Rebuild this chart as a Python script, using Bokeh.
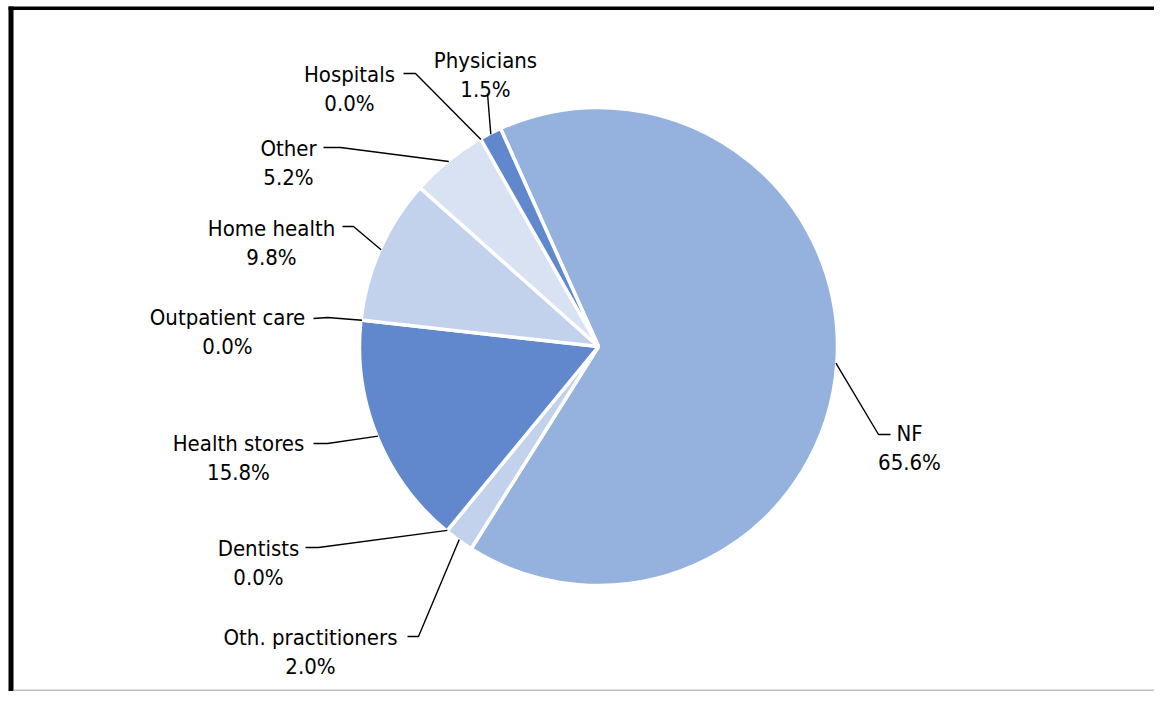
import math
from bokeh.plotting import figure
from bokeh.models import Range1d, ColumnDataSource, BoxAnnotation
from bokeh.core.properties import value
from bokeh.embed import file_html
from bokeh.resources import INLINE

# ---- data (clockwise order, starting with NF) ----
categories = ["NF", "Oth. practitioners", "Dentists", "Health stores",
              "Outpatient care", "Home health", "Other", "Hospitals", "Physicians"]
shares = [65.6, 2.0, 0.0, 15.8, 0.0, 9.8, 5.2, 0.0, 1.5]

# ---- styles ----
slice_colors = ["#95B1DD", "#C2D2EC", "#C2D2EC", "#6187CC",
                "#C2D2EC", "#C2D2EC", "#D9E2F3", "#6187CC", "#6187CC"]

# ---- layout (pixel coordinates, origin at top-left of the chart) ----
W, H = 1154, 691
CX, CY, R = 598, 346, 239
START_DEG = 335.8  # clockwise from 12 o'clock, where NF begins
label_xy = [(909, 433), (310, 637), (258, 548), (238, 443), (227, 317),
            (271, 228), (288, 148), (349, 74), (485, 60)]
leader_elbow = [(878, 434), (418, 636), (318, 547), (327, 443), (327, 317),
                (353, 226), (340, 147), (415, 73), (487, 93)]
leader_end = [(890, 434), (407, 636), (305, 547), (313, 443), (313, 318),
              (342, 226), (323, 147), (403, 73), (487, 93)]
LINE_GAP = 29
FONT = "DejaVu Sans Condensed"
FONT_SIZE = "22px"

p = figure(width=W, height=H, output_backend="svg", toolbar_location=None,
           x_axis_type=None, y_axis_type=None, min_border=0,
           x_range=Range1d(0, W), y_range=Range1d(-H, 0))
p.outline_line_color = None
p.background_fill_color = "white"
p.border_fill_color = "white"

total = sum(shares)
theta = START_DEG
wx, wy, ws, we, wc = [], [], [], [], []
mids = []
for v, c in zip(shares, slice_colors):
    span = v / total * 360.0
    t0, t1 = theta, theta + span
    mids.append((t0 + t1) / 2.0)
    if v > 0:
        wx.append(CX)
        wy.append(-CY)
        ws.append(math.radians(90 - t1))
        we.append(math.radians(90 - t0))
        wc.append(c)
    theta = t1

src = ColumnDataSource(dict(x=wx, y=wy, s=ws, e=we, c=wc))
p.wedge(x="x", y="y", radius=R, start_angle="s", end_angle="e",
        fill_color="c", line_color="white", line_width=3.5, source=src)

# leader lines
xs, ys = [], []
for m, (ex, ey), (nx, ny) in zip(mids, leader_elbow, leader_end):
    px = CX + (R - 1) * math.sin(math.radians(m))
    py = CY - (R - 1) * math.cos(math.radians(m))
    xs.append([px, ex, nx])
    ys.append([-py, -ey, -ny])
p.multi_line(xs=xs, ys=ys, line_color="black", line_width=1.4)

# labels
names_src = ColumnDataSource(dict(
    x=[lx for lx, _ in label_xy], y=[-ly for _, ly in label_xy], t=categories))
pct_src = ColumnDataSource(dict(
    x=[lx for lx, _ in label_xy], y=[-(ly + LINE_GAP) for _, ly in label_xy],
    t=[f"{v:.1f}%" for v in shares]))
for s in (names_src, pct_src):
    p.text(x="x", y="y", text="t", source=s, text_align="center",
           text_baseline="alphabetic", text_font=value(FONT),
           text_font_size=FONT_SIZE, text_color="black")

# frame decoration
p.add_layout(BoxAnnotation(left=8, right=13, top=-6, bottom=-H, fill_color="black",
                           fill_alpha=1, line_color=None))
p.add_layout(BoxAnnotation(left=8, right=W, top=-6, bottom=-9.5, fill_color="black",
                           fill_alpha=1, line_color=None))
p.add_layout(BoxAnnotation(left=13, right=W, top=-(H - 2), bottom=-(H - 0.5),
                           fill_color="#BFBFBF", fill_alpha=1, line_color=None))

open("out.html", "w").write(file_html(p, INLINE))
